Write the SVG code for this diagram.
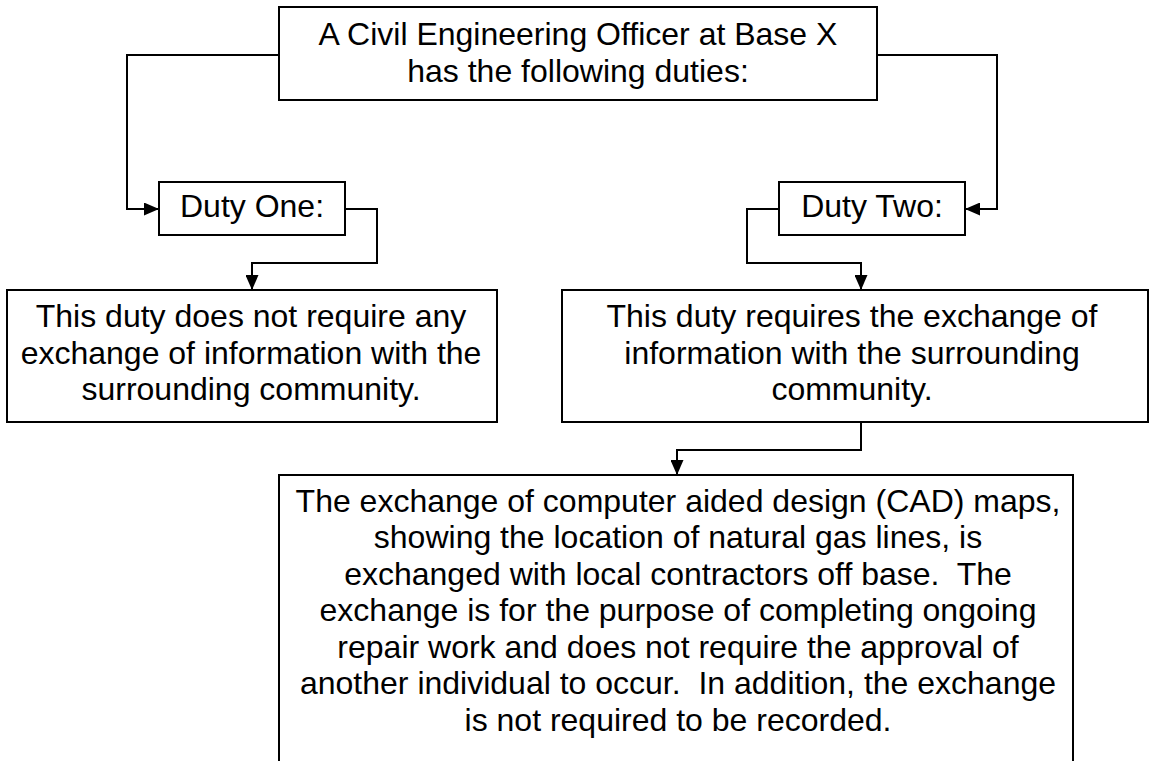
<svg xmlns="http://www.w3.org/2000/svg" width="1154" height="761" viewBox="0 0 1154 761">
<style>
.box{fill:#fff;stroke:#000;stroke-width:2}
.t{font-family:"Liberation Sans",Arial,sans-serif;font-size:32px;fill:#000;text-anchor:middle;white-space:pre}
.c{fill:none;stroke:#000;stroke-width:2}
</style>
<defs>
<marker id="arr" markerUnits="userSpaceOnUse" markerWidth="15" markerHeight="13" refX="15" refY="6.5" orient="auto">
<path d="M0,0 L15,6.5 L0,13 z" fill="#000"/>
</marker>
</defs>
<rect width="1154" height="761" fill="#fff"/>
<g id="connectors">
<path class="c" d="M279,55 H127 V209 H159" marker-end="url(#arr)"/>
<path class="c" d="M345,209 H377 V263 H252 V290" marker-end="url(#arr)"/>
<path class="c" d="M877,55 H997 V209 H965" marker-end="url(#arr)"/>
<path class="c" d="M779,209 H747 V263 H861 V290" marker-end="url(#arr)"/>
<path class="c" d="M861,422 V450 H677 V475" marker-end="url(#arr)"/>
</g>
<g id="top">
<rect class="box" x="279" y="7" width="598" height="93"/>
<text class="t" x="578" y="45">A Civil Engineering Officer at Base X</text>
<text class="t" x="578" y="82">has the following duties:</text>
</g>
<g id="duty1">
<rect class="box" x="159" y="182" width="186" height="53"/>
<text class="t" x="252" y="217">Duty One:</text>
</g>
<g id="duty2">
<rect class="box" x="779" y="182" width="186" height="53"/>
<text class="t" x="872" y="217">Duty Two:</text>
</g>
<g id="noexchange">
<rect class="box" x="7" y="290" width="490" height="132"/>
<text class="t" x="251" y="327">This duty does not require any</text>
<text class="t" x="251" y="364">exchange of information with the</text>
<text class="t" x="251" y="400">surrounding community.</text>
</g>
<g id="exchange">
<rect class="box" x="562" y="290" width="586" height="132"/>
<text class="t" x="852" y="327">This duty requires the exchange of</text>
<text class="t" x="852" y="364">information with the surrounding</text>
<text class="t" x="852" y="400">community.</text>
</g>
<g id="detail">
<rect class="box" x="279" y="475" width="794" height="320"/>
<text class="t" x="678" y="512">The exchange of computer aided design (CAD) maps,</text>
<text class="t" x="678" y="548">showing the location of natural gas lines, is</text>
<text class="t" x="678" y="585">exchanged with local contractors off base.  The</text>
<text class="t" x="678" y="621">exchange is for the purpose of completing ongoing</text>
<text class="t" x="678" y="658">repair work and does not require the approval of</text>
<text class="t" x="678" y="694">another individual to occur.  In addition, the exchange</text>
<text class="t" x="678" y="731">is not required to be recorded.</text>
</g>
</svg>
